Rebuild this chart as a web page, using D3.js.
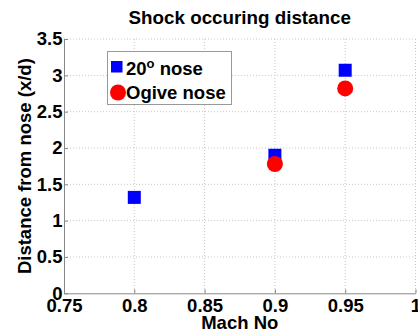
<!DOCTYPE html>
<html>
<head>
<meta charset="utf-8">
<script src="https://cdn.jsdelivr.net/npm/d3@7"></script>
<style>
  body { margin: 0; background: #fff; }
  text { font-family: "Liberation Sans", Arial, sans-serif; font-weight: bold; }
</style>
</head>
<body>
<svg id="chart" width="418" height="334"></svg>
<script>
// data
const mach20 = [0.8, 0.9, 0.95];
const dist20 = [1.32, 1.90, 3.07];
const machOgive = [0.9, 0.95];
const distOgive = [1.78, 2.82];
const xTicks = [0.75, 0.8, 0.85, 0.9, 0.95, 1];
const yTicks = [0, 0.5, 1, 1.5, 2, 2.5, 3, 3.5];

const svg = d3.select("#chart");
const plotL = 64, plotR = 415.5, plotT = 39, plotB = 293.3;
const fs = "18.5px";

const x = d3.scaleLinear().domain([0.75, 1]).range([plotL, plotR]);
const y = d3.scaleLinear().domain([0, 3.5]).range([plotB, plotT]);

// grid
svg.append("g").selectAll("line")
    .data(xTicks.slice(1))
    .enter().append("line")
    .attr("x1", d => x(d)).attr("x2", d => x(d))
    .attr("y1", plotT).attr("y2", plotB)
    .attr("stroke", "#c8c8c8").attr("stroke-dasharray", "1,2");
svg.append("g").selectAll("line")
    .data(yTicks.slice(1))
    .enter().append("line")
    .attr("x1", plotL).attr("x2", plotR)
    .attr("y1", d => y(d)).attr("y2", d => y(d))
    .attr("stroke", "#c8c8c8").attr("stroke-dasharray", "1,2");

// axes, ticks point inward
const xAxis = svg.append("g")
    .attr("transform", `translate(0,${plotB})`)
    .call(d3.axisBottom(x).tickValues(xTicks).tickFormat(d => d3.format("")(d))
        .tickSizeInner(-4).tickSizeOuter(0).tickPadding(6));
const yAxis = svg.append("g")
    .attr("transform", `translate(${plotL},0)`)
    .call(d3.axisLeft(y).tickValues(yTicks).tickFormat(d => d3.format("")(d))
        .tickSizeInner(-4).tickSizeOuter(0).tickPadding(1.5));
[xAxis, yAxis].forEach(a => {
    a.select(".domain").attr("stroke", "#888");
    a.selectAll(".tick line").attr("stroke", "#888");
    a.selectAll("text").attr("fill", "#000").style("font-size", fs).style("font-weight", "bold");
});

// markers
svg.append("g").selectAll("rect")
    .data(mach20.map((m, i) => [m, dist20[i]]))
    .enter().append("rect")
    .attr("x", d => x(d[0]) - 6.5).attr("y", d => y(d[1]) - 6.5)
    .attr("width", 13).attr("height", 13)
    .attr("fill", "#0000ff");
svg.append("g").selectAll("circle")
    .data(machOgive.map((m, i) => [m, distOgive[i]]))
    .enter().append("circle")
    .attr("cx", d => x(d[0])).attr("cy", d => y(d[1]))
    .attr("r", 8)
    .attr("fill", "#ff0000");

// title and labels
svg.append("text")
    .attr("x", (plotL + plotR) / 2).attr("y", 24)
    .attr("text-anchor", "middle")
    .style("font-size", "18.8px")
    .text("Shock occuring distance");
svg.append("text")
    .attr("x", (plotL + plotR) / 2).attr("y", 328.5)
    .attr("text-anchor", "middle")
    .style("font-size", fs)
    .text("Mach No");
svg.append("text")
    .attr("transform", `translate(30.5,${(plotT + plotB) / 2}) rotate(-90)`)
    .attr("text-anchor", "middle")
    .style("font-size", fs)
    .text("Distance from nose (x/d)");

// legend
const legend = svg.append("g");
legend.append("rect")
    .attr("x", 107.5).attr("y", 51.5).attr("width", 124).attr("height", 53)
    .attr("fill", "#fff").attr("stroke", "#999");
legend.append("rect")
    .attr("x", 111).attr("y", 61).attr("width", 11.5).attr("height", 11.5)
    .attr("fill", "#0000ff");
const t1 = legend.append("text")
    .attr("x", 126).attr("y", 75)
    .style("font-size", fs);
t1.append("tspan").text("20");
t1.append("tspan").attr("dy", -7).style("font-size", "13px").text("o");
t1.append("tspan").attr("dy", 7).text(" nose");
legend.append("circle")
    .attr("cx", 118).attr("cy", 92.5).attr("r", 8)
    .attr("fill", "#ff0000");
legend.append("text")
    .attr("x", 126).attr("y", 98.5)
    .style("font-size", fs)
    .text("Ogive nose");
</script>
</body>
</html>
